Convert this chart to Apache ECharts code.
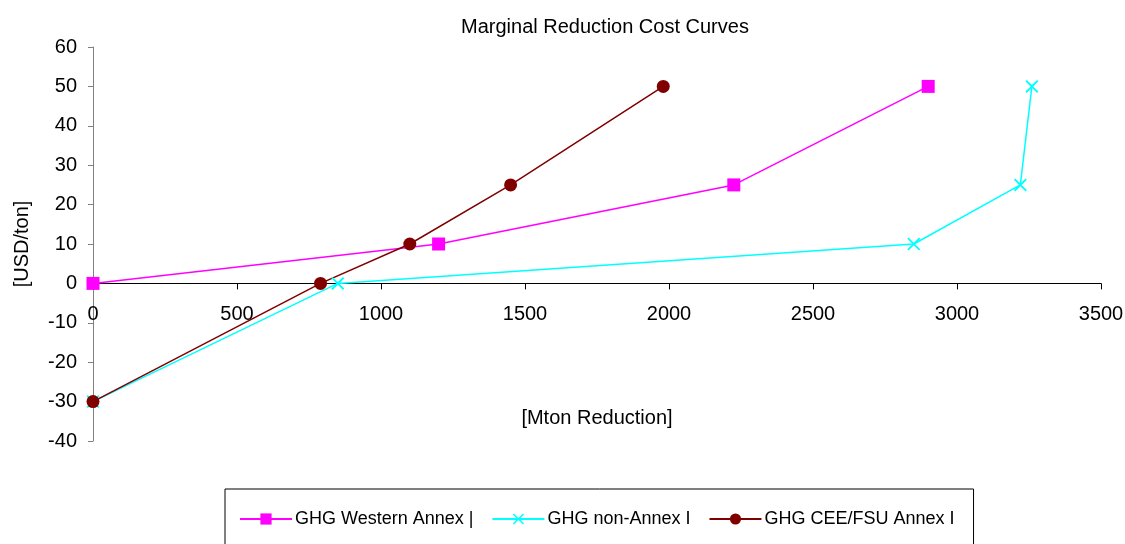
<!DOCTYPE html>
<html>
<head>
<meta charset="utf-8">
<script src="https://cdn.jsdelivr.net/npm/echarts@6/dist/echarts.min.js"></script>
<style>html,body{margin:0;padding:0;background:#fff;}</style>
</head>
<body>
<div id="chart" style="width:1125px;height:544px;"></div>
<script>
// data: [Mton reduction, USD/ton]
var seriesNames = ['GHG Western Annex |', 'GHG non-Annex I', 'GHG CEE/FSU Annex I'];
var westernAnnex = [[0, 0], [1200, 10], [2225, 25], [2900, 50]];
var nonAnnex = [[0, -30], [850, 0], [2850, 10], [3220, 25], [3260, 50]];
var ceeFsu = [[0, -30], [790, 0], [1100, 10], [1450, 25], [1980, 50]];
var xTicks = [0, 500, 1000, 1500, 2000, 2500, 3000, 3500];
var yTicks = [-40, -30, -20, -10, 0, 10, 20, 30, 40, 50, 60];

var font = 'Liberation Sans, Arial, sans-serif';
var crossPath = 'path://M0,1L1,0L5,4L9,0L10,1L6,5L10,9L9,10L5,6L1,10L0,9L4,5Z';

// grid box in pixels
var gridTop = 47, gridBottom = 103, chartH = 544;
var plotH = chartH - gridTop - gridBottom;
var yMin = yTicks[0], yMax = yTicks[yTicks.length - 1];
// move the x axis up to the y = 0 line
var xAxisOffset = -plotH * (0 - yMin) / (yMax - yMin);

var myChart = echarts.init(document.getElementById('chart'));
var option = {
  backgroundColor: '#fff',
  animation: false,
  title: {
    text: 'Marginal Reduction Cost Curves',
    left: 456,
    top: 12,
    textStyle: {fontFamily: font, fontSize: 20, fontWeight: 'normal', color: '#000'}
  },
  grid: {left: 93, right: 24, top: gridTop, bottom: gridBottom, containLabel: false, outerBoundsMode: 'none'},
  legend: {
    left: 225,
    top: 489,
    padding: [21, 19, 40, 14],
    borderColor: '#000',
    borderWidth: 1,
    itemWidth: 52,
    itemHeight: 14,
    itemGap: 18,
    textStyle: {fontFamily: font, fontSize: 18, color: '#000', padding: [0, 0, 0, -2]},
    data: seriesNames
  },
  xAxis: {
    type: 'value',
    min: xTicks[0],
    max: xTicks[xTicks.length - 1],
    interval: 500,
    position: 'bottom',
    offset: xAxisOffset,
    name: '[Mton Reduction]',
    nameLocation: 'middle',
    nameGap: 125,
    nameTextStyle: {fontFamily: font, fontSize: 20, color: '#000'},
    axisLine: {onZero: false, lineStyle: {color: '#000', width: 1}},
    axisTick: {show: true, length: 6, lineStyle: {color: '#000'}},
    axisLabel: {
      margin: 21, fontFamily: font, fontSize: 20, color: '#000',
      formatter: function (v) { return String(v); }
    },
    splitLine: {show: false}
  },
  yAxis: {
    type: 'value',
    min: yMin,
    max: yMax,
    interval: 10,
    name: '[USD/ton]',
    nameLocation: 'middle',
    nameGap: 61,
    nameTextStyle: {fontFamily: font, fontSize: 20, color: '#000'},
    axisLine: {show: true, onZero: false, lineStyle: {color: '#808080', width: 1}},
    axisTick: {show: true, length: 5, lineStyle: {color: '#808080'}},
    axisLabel: {margin: 16, fontFamily: font, fontSize: 20, color: '#000'},
    splitLine: {show: false}
  },
  series: [
    {
      name: seriesNames[0],
      type: 'line',
      data: westernAnnex,
      symbol: 'rect',
      symbolSize: 13,
      lineStyle: {color: '#FF00FF', width: 1.5},
      itemStyle: {color: '#FF00FF', borderWidth: 0}
    },
    {
      name: seriesNames[1],
      type: 'line',
      data: nonAnnex,
      symbol: crossPath,
      symbolSize: 13,
      lineStyle: {color: '#00FFFF', width: 1.5},
      itemStyle: {color: '#00FFFF', borderWidth: 0}
    },
    {
      name: seriesNames[2],
      type: 'line',
      data: ceeFsu,
      symbol: 'circle',
      symbolSize: 13,
      lineStyle: {color: '#800000', width: 1.5},
      itemStyle: {color: '#800000', borderWidth: 0}
    }
  ]
};
myChart.setOption(option);
</script>
</body>
</html>
